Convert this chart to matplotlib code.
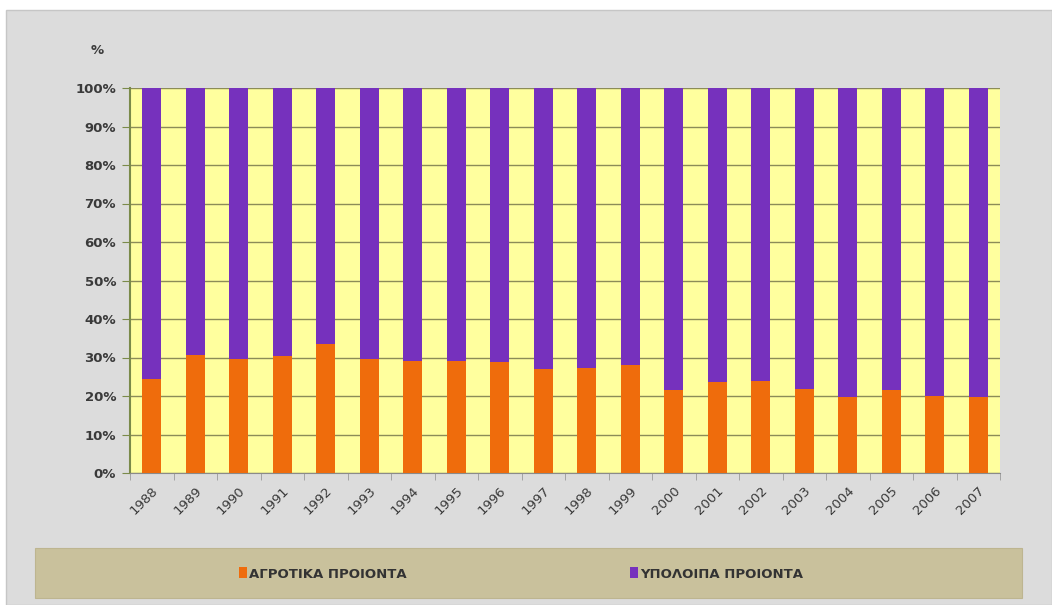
import matplotlib
matplotlib.use("Agg")
import matplotlib.pyplot as plt
from matplotlib.patches import Rectangle
import numpy as np

years = [str(y) for y in range(1988, 2008)]
agro = [24.3, 30.6, 29.5, 30.4, 33.4, 29.7, 29.1, 29.2, 28.9, 26.9,
        27.4, 28.0, 21.6, 23.6, 23.9, 21.7, 19.7, 21.6, 20.0, 19.7]
rest = [100 - v for v in agro]
labels = ["ΑΓΡΟΤΙΚΑ ΠΡΟΙΟΝΤΑ", "ΥΠΟΛΟΙΠΑ ΠΡΟΙΟΝΤΑ"]

ORANGE = "#ef6c0c"
PURPLE = "#7631bd"
W, H = 1052, 605

fig = plt.figure(figsize=(W / 100, H / 100), dpi=100, facecolor="white")

# grey panel behind everything
fig.patches.append(Rectangle((6 / W, 0), 1 - 6 / W, 1 - 10 / H, transform=fig.transFigure,
                             facecolor="#dcdcdc", edgecolor="#c6c6c6", lw=1, zorder=-2))
# khaki legend band
fig.patches.append(Rectangle((35 / W, 1 - 598 / H), (1022 - 35) / W, 50 / H,
                             transform=fig.transFigure, facecolor="#c9c19c",
                             edgecolor="#bdb590", lw=0.8, zorder=-1))

ax = fig.add_axes([130 / W, 1 - 473 / H, 870 / W, (473 - 88) / H])
ax.set_zorder(2)
ax.set_facecolor("#ffff9e")

x = np.arange(len(years))
b1 = ax.bar(x, agro, width=0.44, color=ORANGE, zorder=3, label=labels[0])
b2 = ax.bar(x, rest, width=0.44, bottom=agro, color=PURPLE, zorder=3, label=labels[1])

ax.set_xlim(-0.5, len(years) - 0.5)
ax.set_ylim(0, 100)
ax.set_yticks(np.arange(0, 101, 10))
ax.set_yticklabels([f"{v}%" for v in range(0, 101, 10)], fontsize=9.5,
                   fontweight="bold", color="#3a3a3a")
ax.yaxis.grid(True, color="#8c8c58", lw=1.0, zorder=1)
ax.tick_params(axis="y", length=6, color="#7a8a4a", pad=4)

ax.set_xticks(x)
ax.set_xticklabels(years, rotation=45, ha="right", rotation_mode="anchor",
                   fontsize=9.5, color="#3a3a3a")
ax.tick_params(axis="x", length=0, pad=8)
ax.set_xticks(np.arange(-0.5, len(years), 1), minor=True)
ax.tick_params(axis="x", which="minor", length=5, color="#9a9a9a")

for side in ("top", "right"):
    ax.spines[side].set_visible(False)
ax.spines["left"].set_color("#7a8a4a")
ax.spines["left"].set_linewidth(1.5)
ax.spines["bottom"].set_color("#8a8a8a")

fig.text(97 / W, 1 - 50 / H, "%", fontsize=9.5, fontweight="bold", color="#3a3a3a",
         ha="center", va="center")

fig.legend(handles=[b1, b2], labels=labels, loc="center",
           bbox_to_anchor=(521 / W, 1 - 574 / H), ncol=2, frameon=False,
           prop={"size": 9.5, "weight": "bold"},
           handlelength=0.6, handleheight=0.9, handletextpad=0.15,
           columnspacing=17, labelcolor="#333333")

fig.savefig("out.png", dpi=100, facecolor=fig.get_facecolor())
